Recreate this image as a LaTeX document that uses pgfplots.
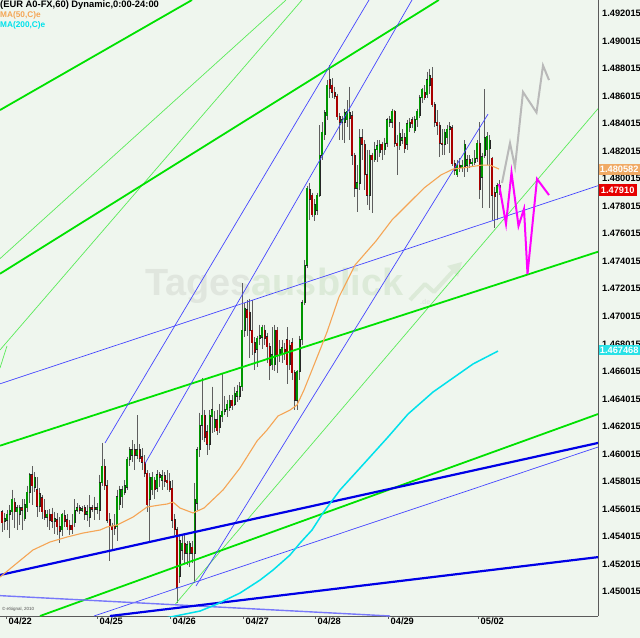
\documentclass[border=0pt]{standalone}
\usepackage{fontspec}
\setmainfont{Liberation Sans}
\usepackage{pgfplots}
\pgfplotsset{compat=1.18}
\usepackage{pgfplotstable}
\definecolor{bg}{RGB}{239,246,238}
\definecolor{axisgray}{RGB}{90,90,90}
\definecolor{wick}{RGB}{95,95,95}
\definecolor{upgreen}{RGB}{0,150,0}
\definecolor{downred}{RGB}{170,0,0}
\definecolor{gthick}{RGB}{0,225,0}
\definecolor{gthin}{RGB}{90,235,90}
\definecolor{bthick}{RGB}{0,0,230}
\definecolor{bthin}{RGB}{70,70,255}
\definecolor{lav}{RGB}{120,120,250}
\definecolor{ma50}{RGB}{245,165,85}
\definecolor{ma200}{RGB}{0,225,235}
\definecolor{proj}{RGB}{255,0,255}
\definecolor{projgray}{RGB}{185,185,185}
\definecolor{wmgray}{RGB}{224,230,222}
\definecolor{wmgreen}{RGB}{220,234,216}
\definecolor{boxorange}{RGB}{240,170,100}
\definecolor{boxred}{RGB}{230,0,0}
\definecolor{boxcyan}{RGB}{40,225,230}

\pgfplotstableread{
x o h l c
2 1.4557 1.4558 1.4542 1.4549
4.5 1.4550 1.4556 1.4544 1.4552
7 1.4551 1.4558 1.4544 1.4555
9.5 1.4555 1.4562 1.4538 1.4558
12 1.4557 1.4573 1.4551 1.4566
14.5 1.4564 1.4567 1.4545 1.4557
17 1.4557 1.4562 1.4544 1.4560
19.5 1.4555 1.4562 1.4547 1.4560
22 1.4560 1.4566 1.4544 1.4558
24.5 1.4552 1.4566 1.4550 1.4562
27 1.4560 1.4576 1.4557 1.4571
29.5 1.4571 1.4585 1.4563 1.4584
32 1.4584 1.4590 1.4562 1.4576
34.5 1.4575 1.4586 1.4571 1.4582
37 1.4573 1.4582 1.4553 1.4561
39.5 1.4561 1.4574 1.4557 1.4570
42 1.4567 1.4569 1.4552 1.4557
44.5 1.4558 1.4566 1.4551 1.4553
47 1.4553 1.4558 1.4546 1.4555
49.5 1.4555 1.4559 1.4544 1.4551
52 1.4555 1.4560 1.4545 1.4550
54.5 1.4550 1.4557 1.4541 1.4552
57 1.4551 1.4556 1.4540 1.4546
59.5 1.4546 1.4553 1.4534 1.4543
62 1.4544 1.4556 1.4539 1.4555
64.5 1.4554 1.4558 1.4546 1.4550
67 1.4551 1.4555 1.4544 1.4546
69.5 1.4547 1.4551 1.4540 1.4544
72 1.4547 1.4555 1.4541 1.4544
74.5 1.4549 1.4566 1.4546 1.4558
77 1.4558 1.4563 1.4557 1.4560
79.5 1.4560 1.4562 1.4555 1.4558
82 1.4558 1.4561 1.4557 1.4559
84.5 1.4560 1.4562 1.4551 1.4555
87 1.4555 1.4562 1.4550 1.4557
89.5 1.4553 1.4569 1.4546 1.4560
92 1.4560 1.4562 1.4557 1.4559
94.5 1.4560 1.4568 1.4551 1.4559
97 1.4559 1.4563 1.4555 1.4560
99.5 1.4558 1.4584 1.4551 1.4578
102 1.4578 1.4607 1.4576 1.4590
104.5 1.4590 1.4595 1.4573 1.4576
107 1.4576 1.4580 1.4549 1.4551
109.5 1.4551 1.4556 1.4521 1.4546
112 1.4546 1.4549 1.4529 1.4544
114.5 1.4547 1.4555 1.4540 1.4545
117 1.4546 1.4573 1.4536 1.4568
119.5 1.4562 1.4576 1.4558 1.4573
122 1.4568 1.4576 1.4560 1.4573
124.5 1.4571 1.4580 1.4569 1.4576
127 1.4575 1.4597 1.4573 1.4595
129.5 1.4595 1.4604 1.4590 1.4602
132 1.4598 1.4609 1.4593 1.4602
134.5 1.4602 1.4606 1.4587 1.4598
137 1.4598 1.4627 1.4595 1.4602
139.5 1.4602 1.4606 1.4593 1.4596
142 1.4597 1.4603 1.4587 1.4593
144.5 1.4593 1.4598 1.4582 1.4585
147 1.4585 1.4587 1.4557 1.4562
149.5 1.4566 1.4585 1.4534 1.4582
152 1.4573 1.4586 1.4569 1.4582
154.5 1.4580 1.4582 1.4566 1.4573
157 1.4574 1.4587 1.4571 1.4584
159.5 1.4584 1.4586 1.4575 1.4582
162 1.4580 1.4587 1.4573 1.4583
164.5 1.4583 1.4586 1.4575 1.4579
167 1.4580 1.4587 1.4573 1.4578
169.5 1.4579 1.4585 1.4571 1.4573
172 1.4574 1.4580 1.4545 1.4551
174.5 1.4551 1.4555 1.4540 1.4544
177 1.4544 1.4546 1.4491 1.4502
179.5 1.4510 1.4539 1.4505 1.4536
182 1.4529 1.4539 1.4522 1.4534
184.5 1.4534 1.4541 1.4520 1.4527
187 1.4527 1.4536 1.4518 1.4533
189.5 1.4527 1.4536 1.4517 1.4534
192 1.4531 1.4536 1.4520 1.4527
194.5 1.4527 1.4578 1.4505 1.4566
197 1.4563 1.4604 1.4558 1.4602
199.5 1.4602 1.4629 1.4597 1.4620
202 1.4620 1.4654 1.4609 1.4627
204.5 1.4627 1.4631 1.4608 1.4611
207 1.4615 1.4620 1.4598 1.4606
209.5 1.4606 1.4631 1.4602 1.4627
212 1.4626 1.4648 1.4614 1.4631
214.5 1.4618 1.4630 1.4615 1.4624
217 1.4624 1.4631 1.4613 1.4616
219.5 1.4618 1.4635 1.4614 1.4627
222 1.4626 1.4658 1.4622 1.4630
224.5 1.4630 1.4641 1.4627 1.4631
227 1.4631 1.4638 1.4626 1.4635
229.5 1.4633 1.4642 1.4630 1.4638
232 1.4638 1.4642 1.4631 1.4634
234.5 1.4635 1.4648 1.4634 1.4643
237 1.4641 1.4649 1.4637 1.4644
239.5 1.4641 1.4651 1.4638 1.4648
242 1.4648 1.4723 1.4645 1.4689
244.5 1.4689 1.4709 1.4684 1.4705
247 1.4704 1.4711 1.4685 1.4698
249.5 1.4702 1.4712 1.4669 1.4689
252 1.4689 1.4711 1.4671 1.4680
254.5 1.4680 1.4684 1.4660 1.4673
257 1.4675 1.4685 1.4662 1.4683
259.5 1.4683 1.4693 1.4678 1.4685
262 1.4684 1.4693 1.4675 1.4691
264.5 1.4689 1.4693 1.4678 1.4683
267 1.4684 1.4687 1.4665 1.4677
269.5 1.4677 1.4680 1.4653 1.4663
272 1.4664 1.4691 1.4660 1.4671
274.5 1.4664 1.4693 1.4659 1.4689
277 1.4689 1.4691 1.4658 1.4671
279.5 1.4671 1.4682 1.4666 1.4675
282 1.4671 1.4682 1.4665 1.4676
284.5 1.4675 1.4680 1.4667 1.4672
287 1.4682 1.4691 1.4650 1.4664
289.5 1.4664 1.4682 1.4660 1.4678
292 1.4680 1.4683 1.4653 1.4658
294.5 1.4658 1.4660 1.4631 1.4638
297 1.4638 1.4660 1.4631 1.4659
299.5 1.4659 1.4685 1.4653 1.4682
302 1.4682 1.4711 1.4678 1.4709
304.5 1.4709 1.4740 1.4707 1.4736
307 1.4736 1.4794 1.4734 1.4792
309.5 1.4791 1.4796 1.4769 1.4784
312 1.4787 1.4789 1.4771 1.4773
314.5 1.4773 1.4784 1.4768 1.4780
317 1.4776 1.4789 1.4773 1.4787
319.5 1.4787 1.4838 1.4786 1.4816
322 1.4816 1.4840 1.4813 1.4833
324.5 1.4831 1.4849 1.4827 1.4847
327 1.4845 1.4871 1.4842 1.4867
329.5 1.4871 1.4882 1.4858 1.4865
332 1.4867 1.4872 1.4858 1.4862
334.5 1.4862 1.4866 1.4857 1.4859
337 1.4859 1.4861 1.4842 1.4844
339.5 1.4844 1.4847 1.4827 1.4840
342 1.4840 1.4845 1.4827 1.4842
344.5 1.4840 1.4850 1.4825 1.4847
347 1.4842 1.4856 1.4837 1.4848
349.5 1.4843 1.4866 1.4827 1.4847
352 1.4845 1.4848 1.4809 1.4816
354.5 1.4816 1.4818 1.4786 1.4792
357 1.4792 1.4809 1.4775 1.4796
359.5 1.4796 1.4835 1.4791 1.4829
362 1.4829 1.4835 1.4813 1.4824
364.5 1.4824 1.4827 1.4791 1.4802
367 1.4802 1.4820 1.4780 1.4787
369.5 1.4787 1.4820 1.4776 1.4816
372 1.4816 1.4818 1.4774 1.4813
374.5 1.4813 1.4826 1.4811 1.4820
377 1.4820 1.4827 1.4811 1.4823
379.5 1.4818 1.4827 1.4815 1.4824
382 1.4824 1.4826 1.4813 1.4820
384.5 1.4820 1.4829 1.4816 1.4825
387 1.4825 1.4843 1.4822 1.4842
389.5 1.4840 1.4845 1.4837 1.4842
392 1.4840 1.4850 1.4836 1.4848
394.5 1.4848 1.4849 1.4822 1.4825
397 1.4825 1.4831 1.4802 1.4823
399.5 1.4823 1.4840 1.4820 1.4832
402 1.4827 1.4835 1.4824 1.4829
404.5 1.4829 1.4832 1.4818 1.4821
407 1.4824 1.4842 1.4820 1.4839
409.5 1.4836 1.4843 1.4833 1.4840
412 1.4842 1.4844 1.4836 1.4839
414.5 1.4834 1.4845 1.4832 1.4842
417 1.4842 1.4850 1.4837 1.4848
419.5 1.4845 1.4860 1.4843 1.4858
422 1.4858 1.4865 1.4854 1.4864
424.5 1.4862 1.4867 1.4856 1.4858
427 1.4860 1.4877 1.4858 1.4871
429.5 1.4867 1.4879 1.4861 1.4874
432 1.4872 1.4880 1.4851 1.4853
434.5 1.4853 1.4855 1.4837 1.4840
437 1.4840 1.4849 1.4831 1.4838
439.5 1.4838 1.4840 1.4815 1.4825
442 1.4825 1.4835 1.4816 1.4824
444.5 1.4824 1.4835 1.4816 1.4833
447 1.4829 1.4838 1.4824 1.4835
449.5 1.4835 1.4840 1.4818 1.4837
452 1.4836 1.4838 1.4808 1.4810
454.5 1.4810 1.4813 1.4802 1.4805
457 1.4802 1.4813 1.4800 1.4809
459.5 1.4809 1.4814 1.4804 1.4807
462 1.4807 1.4813 1.4804 1.4809
464.5 1.4808 1.4827 1.4800 1.4824
467 1.4809 1.4816 1.4804 1.4813
469.5 1.4813 1.4816 1.4807 1.4810
472 1.4810 1.4814 1.4808 1.4811
474.5 1.4811 1.4820 1.4809 1.4814
477 1.4814 1.4827 1.4811 1.4825
479.5 1.4825 1.4840 1.4784 1.4791
482 1.4800 1.4818 1.4778 1.4815
484.5 1.4816 1.4864 1.4814 1.4829
487 1.4820 1.4833 1.4809 1.4830
489.5 1.4821 1.4831 1.4778 1.4827
492 1.4814 1.4815 1.4769 1.4787
494.5 1.4789 1.4793 1.4763 1.4786
497 1.4789 1.4796 1.4769 1.4794
499.5 1.4794 1.4798 1.4787 1.4791
}\candles

\pgfplotstableread{
x y
0 1.45095
17 1.45197
33 1.45292
50 1.45350
67 1.45386
83 1.45415
100 1.45437
107 1.45459
117 1.45473
133 1.45531
147 1.45604
160 1.45619
167 1.45626
173 1.45640
180 1.45597
193 1.45561
204 1.45597
223 1.45728
240 1.45888
257 1.46084
267 1.46164
278 1.46266
290 1.46309
297 1.46346
304 1.46455
310 1.46564
320 1.46746
327 1.46876
339 1.47131
355 1.47363
376 1.47538
392 1.47691
408 1.47807
424 1.47923
441 1.48018
453 1.48061
469 1.48076
482 1.48090
490 1.48090
499 1.48061
}\maA

\pgfplotstableread{
x y
165 1.44797
185 1.44826
200 1.44848
215 1.44892
240 1.44979
260 1.45073
273 1.45146
290 1.45255
300 1.45342
312 1.45437
323 1.45561
340 1.45728
360 1.45888
388 1.46113
408 1.46280
433 1.46440
453 1.46542
473 1.46644
498 1.46738
}\maB

\pgfplotsset{
  cndl/.style={draw=none, mark=none, mark size=0pt, forget plot},
}

\begin{document}
\begin{tikzpicture}
\useasboundingbox (0,0) rectangle (640bp,638bp);
\fill[bg] (0,0) rectangle (640bp,638bp);
% watermark
\node[anchor=base west, inner sep=0pt, font=\bfseries\fontsize{38}{38}\selectfont] at (145bp,342bp)
  {\textcolor{wmgray}{Tages}\textcolor{wmgreen}{ausblick}};
\draw[wmgreen, line width=4bp, line join=round] (410bp,338bp) -- (425bp,354bp) -- (434bp,346bp) -- (456bp,370bp);
\fill[wmgreen] (462bp,376bp) -- (447bp,372bp) -- (458bp,361bp) -- cycle;
\node[anchor=base west, inner sep=0pt, text=wmgray, font=\bfseries\fontsize{7}{7}\selectfont] at (420bp,333bp) {.de};

\begin{axis}[
  at={(0bp,22bp)}, anchor=south west,
  scale only axis, width=598bp, height=616bp,
  xmin=0, xmax=598, ymin=1.44812, ymax=1.4929,
  axis x line*=bottom, axis y line*=right,
  axis line style={draw=axisgray, line width=0.8bp},
  clip mode=individual,
  xtick={6,97,170,243,315,388,478},
  xticklabels={04/22,04/25,04/26,04/27,04/28,04/29,05/02},
  xticklabel style={font=\bfseries\fontsize{9.3}{10}\selectfont, anchor=north west, inner sep=0pt, xshift=2.5bp, yshift=1bp},
  major tick length=2.5bp, tick align=outside,
  xtick style={draw=axisgray, line width=0.6bp},
  ytick={1.450015,1.452015,1.454015,1.456015,1.458015,1.460015,1.462015,1.464015,1.466015,1.468015,1.470015,1.472015,1.474015,1.476015,1.478015,1.480015,1.482015,1.484015,1.486015,1.488015,1.490015,1.492015},
  yticklabels={1.450015,1.452015,1.454015,1.456015,1.458015,1.460015,1.462015,1.464015,1.466015,1.468015,1.470015,1.472015,1.474015,1.476015,1.478015,1.480015,1.482015,1.484015,1.486015,1.488015,1.490015,1.492015},
  yticklabel style={font=\bfseries\fontsize{9.3}{10}\selectfont, anchor=west, inner sep=0pt, xshift=1.5bp, yshift=-1.5bp},
  ytick style={draw=none},
]
% candles: wicks
\addplot[cndl, error bars/.cd, y dir=minus, y explicit, error mark=none,
  error bar style={line width=0.7bp, draw=wick}]
  table[x=x, y=h, y error minus expr={\thisrow{h}-\thisrow{l}}] {\candles};
% body outline (slightly taller than the body so that flat bodies show)
\addplot[cndl, error bars/.cd, y dir=minus, y explicit, error mark=none,
  error bar style={line width=2.0bp, draw=black!85}]
  table[x=x, y expr={max(\thisrow{o},\thisrow{c})+0.00004}, y error minus expr={abs(\thisrow{o}-\thisrow{c})+0.00008}] {\candles};
% up bodies
\addplot[cndl, error bars/.cd, y dir=minus, y explicit, error mark=none,
  error bar style={line width=1.35bp, draw=upgreen}]
  table[x=x, y=c, y error minus expr={max(\thisrow{c}-\thisrow{o},0)}] {\candles};
% down bodies
\addplot[cndl, error bars/.cd, y dir=minus, y explicit, error mark=none,
  error bar style={line width=1.35bp, draw=downred}]
  table[x=x, y=o, y error minus expr={max(\thisrow{o}-\thisrow{c},0)}] {\candles};

% thin green lines
\addplot[gthin, line width=0.7bp] coordinates {(0,1.4741) (286,1.4929)};
\addplot[gthin, line width=0.7bp] coordinates {(0,1.46746) (302,1.4929)};
\addplot[gthin, line width=0.7bp] coordinates {(175.5,1.4490) (598,1.4850)};
\addplot[gthin, line width=0.7bp] coordinates {(0,1.46615) (7,1.46775)};
% thick green lines
\addplot[gthick, line width=1.8bp] coordinates {(0,1.4849) (192,1.4929)};
\addplot[gthick, line width=1.8bp] coordinates {(0,1.4730) (438.8,1.4929)};
\addplot[gthick, line width=1.8bp] coordinates {(0,1.4605) (598,1.4746)};
\addplot[gthick, line width=1.8bp] coordinates {(40,1.44812) (598,1.4628)};
% thin blue lines
\addplot[bthin, line width=0.7bp] coordinates {(0,1.4650) (598,1.4794)};
\addplot[bthin, line width=0.7bp] coordinates {(94,1.44812) (598,1.4604)};
\addplot[lav, line width=1.4bp] coordinates {(0,1.4496) (390,1.44812)};
\addplot[bthin, line width=0.7bp] coordinates {(105,1.4607) (369,1.4929)};
\addplot[bthin, line width=0.7bp] coordinates {(145,1.4592) (412,1.4929)};
\addplot[bthin, line width=0.7bp] coordinates {(196,1.4503) (488,1.4846)};
% thick blue lines
\addplot[bthick, line width=2.2bp] coordinates {(0,1.4511) (598,1.4607)};
\addplot[bthick, line width=2.2bp] coordinates {(110,1.44812) (598,1.4524)};
% moving averages
\addplot[ma50, line width=1.1bp] table[x=x,y=y] {\maA};
\addplot[ma200, line width=1.5bp] table[x=x,y=y] {\maB};
% projections
\addplot[projgray, line width=2bp, line join=miter] coordinates {(502,1.47960) (510,1.48250) (515,1.48076) (523,1.48621) (536.5,1.48472) (543,1.48814) (549,1.48708)};
\addplot[proj, line width=2bp, line join=miter] coordinates {(499,1.47952) (506,1.47662) (511.5,1.48036) (518.5,1.47647) (524,1.47771) (527.5,1.47298) (537,1.47989) (549,1.47872)};

\coordinate (pOr) at (axis cs:598,1.480582);
\coordinate (pRd) at (axis cs:598,1.47910);
\coordinate (pCy) at (axis cs:598,1.467468);
\end{axis}

\node[anchor=west, fill=boxorange, text=white, inner sep=0pt, minimum height=11.5bp, minimum width=41bp, font=\bfseries\fontsize{9.3}{10}\selectfont] at ([xshift=0.5bp]pOr) {1.480582};
\node[anchor=west, fill=boxred, text=white, inner sep=0pt, minimum height=11.5bp, minimum width=38bp, font=\bfseries\fontsize{9.3}{10}\selectfont] at ([xshift=0.5bp]pRd) {1.47910};
\node[anchor=west, fill=boxcyan, text=white, inner sep=0pt, minimum height=10.5bp, minimum width=41bp, font=\bfseries\fontsize{9.3}{10}\selectfont] at ([xshift=0.5bp]pCy) {1.467468};

\node[anchor=base west, inner sep=0pt, font=\bfseries\fontsize{9.4}{10}\selectfont] at (0bp,630bp) {(EUR A0-FX,60) Dynamic,0:00-24:00};
\node[anchor=base west, inner sep=0pt, text=ma50, font=\bfseries\fontsize{8.3}{10}\selectfont] at (0bp,620bp) {MA(50,C)e};
\node[anchor=base west, inner sep=0pt, text=ma200, font=\bfseries\fontsize{8.3}{10}\selectfont] at (0bp,610bp) {MA(200,C)e};
\node[anchor=west, inner sep=0pt, font=\fontsize{4.5}{5}\selectfont, text=black!70] at (2bp,29bp) {\textcopyright\ eSignal, 2010};
\end{tikzpicture}
\end{document}
